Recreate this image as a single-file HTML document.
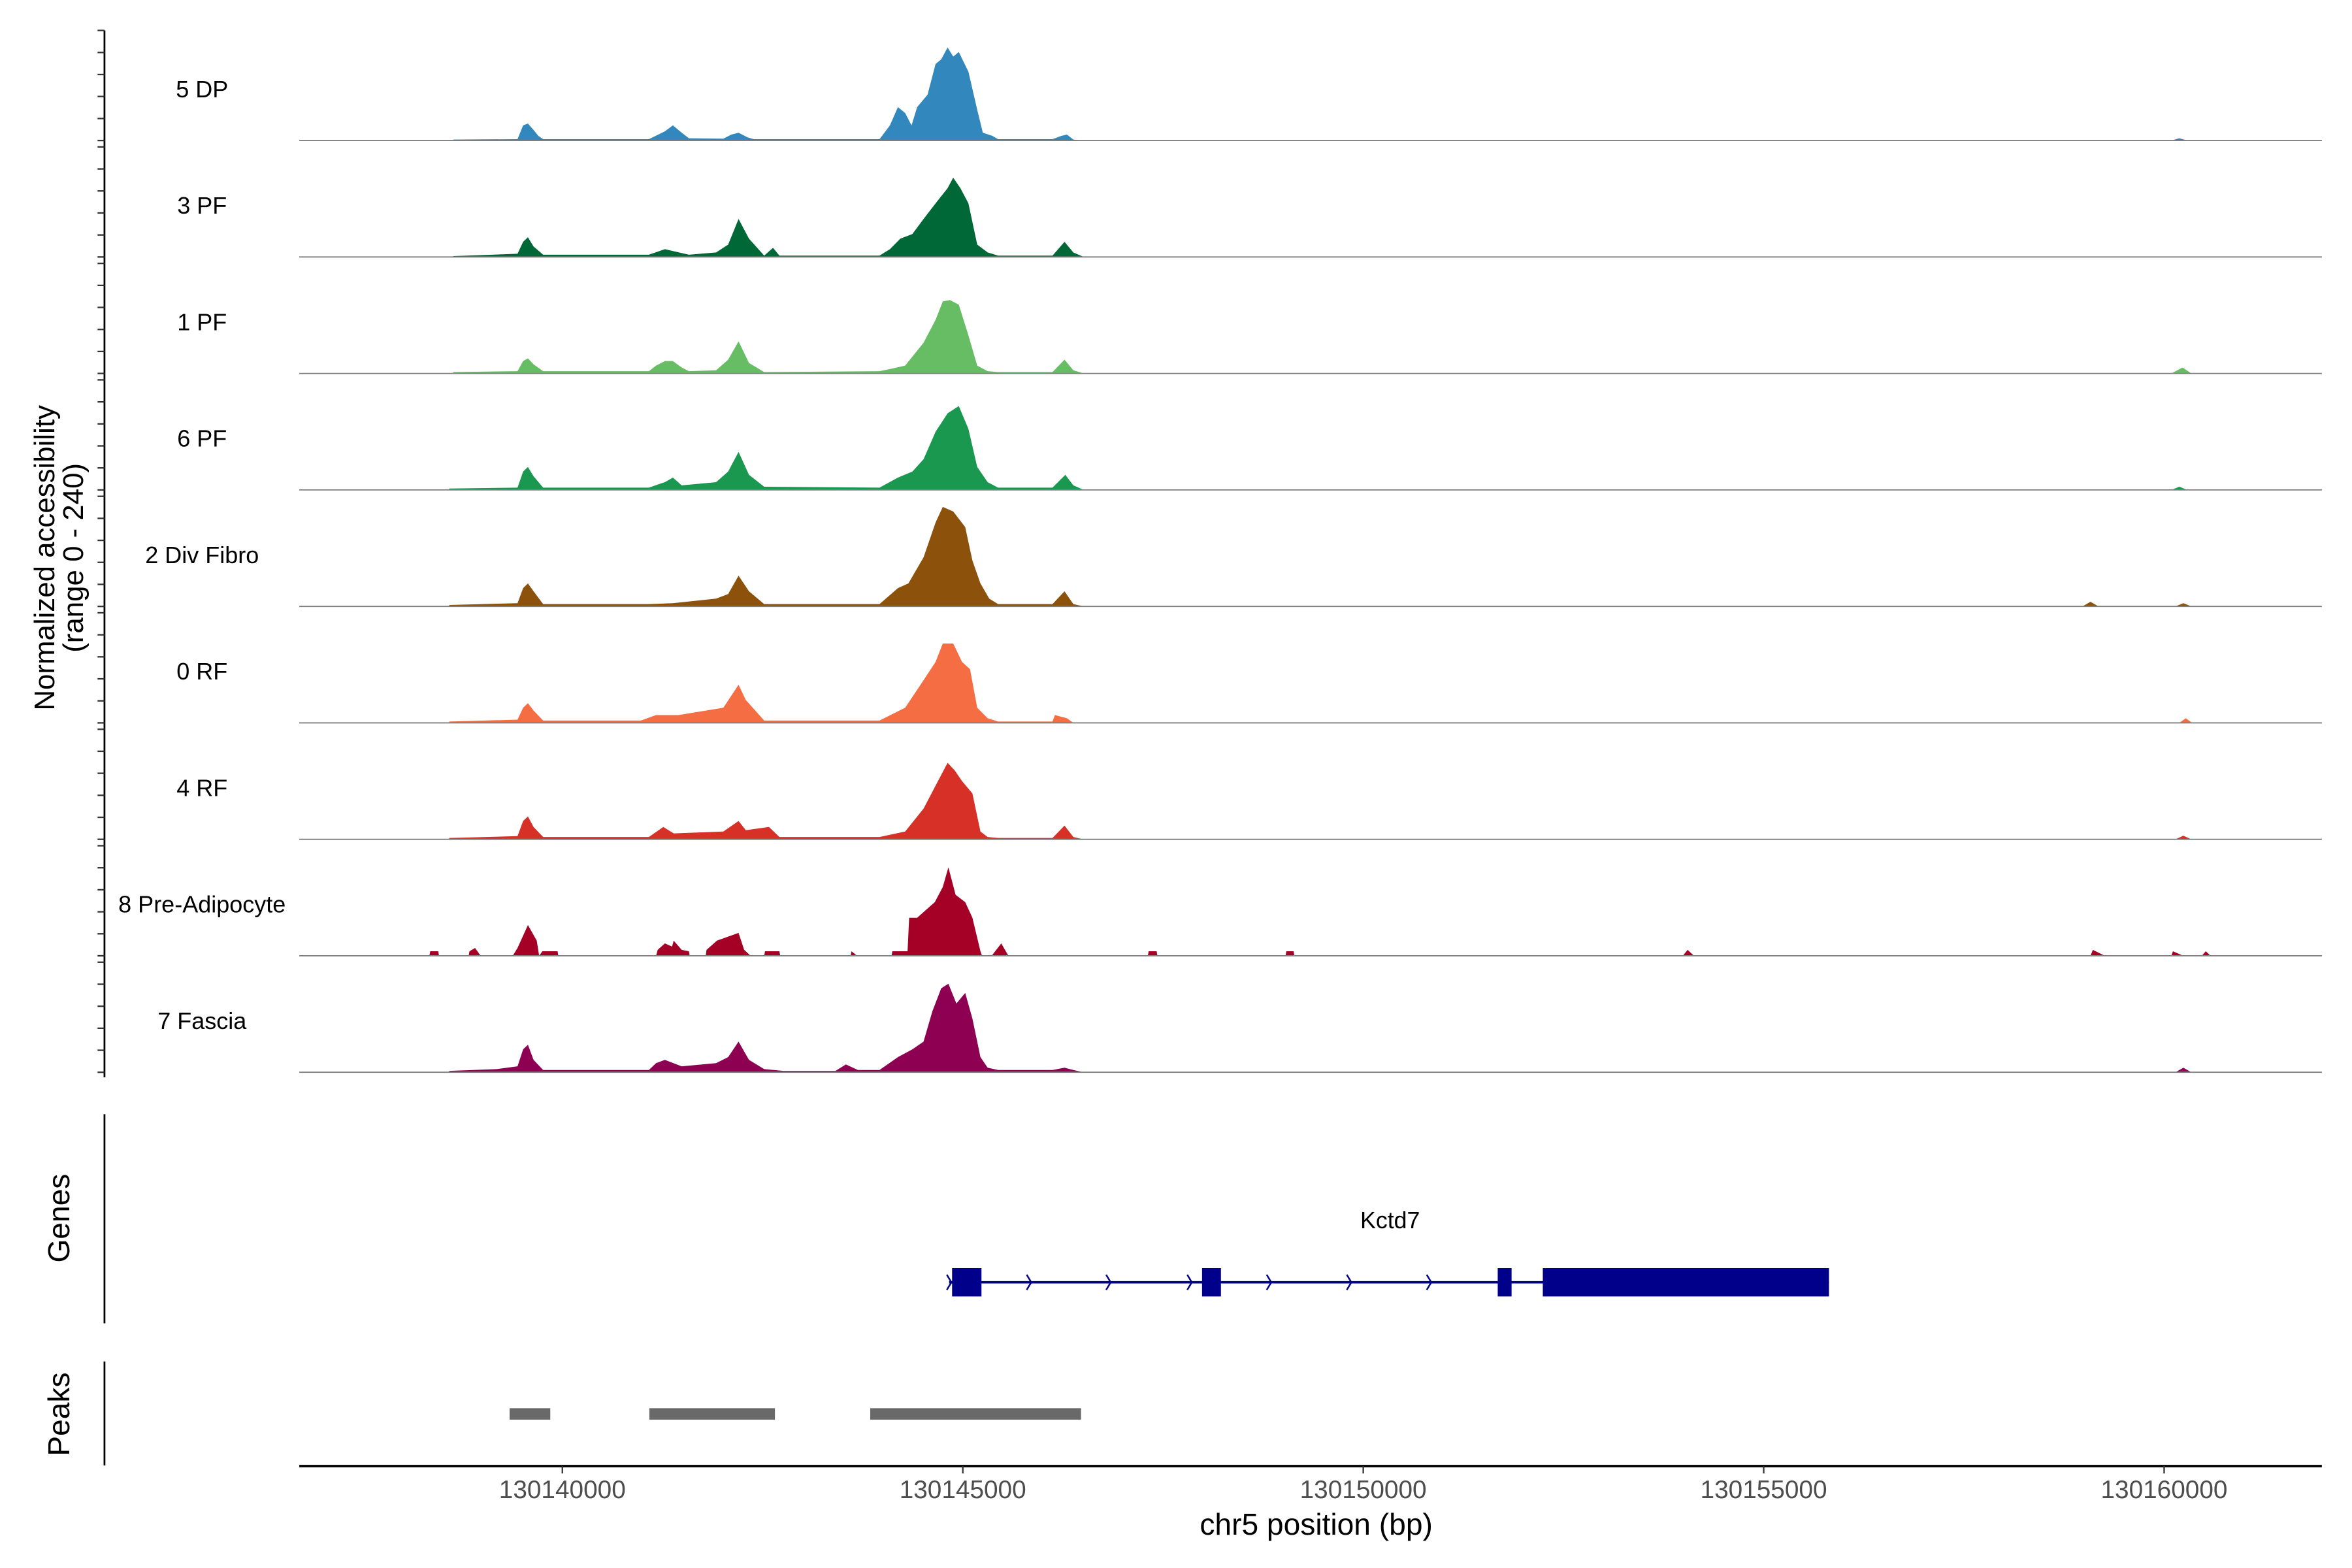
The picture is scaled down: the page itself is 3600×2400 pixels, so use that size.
<!DOCTYPE html>
<html><head><meta charset="utf-8">
<style>
html,body{margin:0;padding:0;background:#fff;}
svg{display:block;}
text{font-family:"Liberation Sans",Arial,sans-serif;}
</style></head>
<body>
<svg id="chart" width="3600" height="2400" viewBox="0 0 1560 1040" xmlns="http://www.w3.org/2000/svg">
  <g id="tracks"></g>
  <g id="yaxis"></g>
  <text transform="translate(36,370) rotate(-90)" text-anchor="middle" font-size="19" fill="#000">Normalized accessibility</text>
  <text transform="translate(55,370) rotate(-90)" text-anchor="middle" font-size="19" fill="#000">(range 0 - 240)</text>
  <g id="genes"></g>
  <line x1="69.3" y1="739" x2="69.3" y2="877.7" stroke="#000" stroke-width="1.2"/>
  <text transform="translate(46,808) rotate(-90)" text-anchor="middle" font-size="20" fill="#000">Genes</text>
  <g id="peaks"></g>
  <line x1="69.3" y1="903" x2="69.3" y2="972" stroke="#000" stroke-width="1.2"/>
  <text transform="translate(46,938) rotate(-90)" text-anchor="middle" font-size="20" fill="#000">Peaks</text>
  <g id="xaxis"></g>
  <text x="873" y="1018" text-anchor="middle" font-size="20" fill="#000">chr5 position (bp)</text>
</svg>
<script>
const trackNames = ["5 DP","3 PF","1 PF","6 PF","2 Div Fibro","0 RF","4 RF","8 Pre-Adipocyte","7 Fascia"];
const trackColors = ["#3288BD","#006837","#66BD63","#1A9850","#8C510A","#F46D43","#D73027","#A50026","#8E0152"];
const dp5 = [[130138630,0],[130138640,2],[130139440,3],[130139510,33],[130139570,37],[130139640,23],[130139700,10],[130139760,3],[130141080,3],[130141280,20],[130141380,33],[130141490,17],[130141580,5],[130142010,4],[130142110,13],[130142200,17],[130142310,7],[130142390,3],[130143960,3],[130144090,33],[130144190,73],[130144280,60],[130144360,33],[130144430,73],[130144560,100],[130144660,167],[130144730,177],[130144810,203],[130144880,183],[130144950,193],[130145070,150],[130145180,67],[130145250,17],[130145370,10],[130145440,3],[130146120,3],[130146230,10],[130146300,13],[130146380,2],[130146510,0],[130160090,0],[130160190,5],[130160290,0]];
const pf3 = [[130138630,0],[130138640,2],[130139440,7],[130139510,33],[130139570,43],[130139640,23],[130139760,5],[130141080,5],[130141280,17],[130141380,13],[130141580,5],[130141920,10],[130142070,27],[130142200,83],[130142330,40],[130142520,3],[130142630,20],[130142710,3],[130143960,3],[130144090,17],[130144220,40],[130144370,50],[130144510,83],[130144660,117],[130144810,150],[130144880,173],[130144970,150],[130145070,117],[130145180,27],[130145310,10],[130145440,3],[130146120,3],[130146270,33],[130146380,10],[130146510,0]];
const pf1 = [[130138630,0],[130138640,3],[130139440,5],[130139510,27],[130139570,33],[130139640,20],[130139760,5],[130141080,5],[130141170,17],[130141280,27],[130141380,27],[130141490,13],[130141580,5],[130141920,7],[130142070,30],[130142200,70],[130142330,23],[130142520,3],[130143960,5],[130144100,10],[130144280,17],[130144510,67],[130144660,117],[130144750,157],[130144840,160],[130144950,150],[130145070,83],[130145180,17],[130145310,5],[130145440,3],[130146120,3],[130146270,30],[130146380,7],[130146510,0],[130160090,0],[130160230,13],[130160340,0]];
const pf6 = [[130138580,0],[130138590,3],[130139440,5],[130139510,40],[130139570,50],[130139640,30],[130139760,5],[130141080,5],[130141280,17],[130141380,27],[130141490,10],[130141920,17],[130142070,40],[130142200,83],[130142330,33],[130142520,7],[130143960,5],[130144190,27],[130144370,40],[130144510,67],[130144660,127],[130144810,167],[130144950,183],[130145070,133],[130145180,50],[130145310,17],[130145440,5],[130146120,5],[130146280,33],[130146380,10],[130146510,0],[130160090,0],[130160190,7],[130160290,0]];
const divFibro = [[130138580,0],[130138590,3],[130139440,7],[130139510,40],[130139570,50],[130139640,33],[130139760,5],[130141080,5],[130141380,7],[130141920,17],[130142070,27],[130142200,67],[130142330,33],[130142520,5],[130143960,5],[130144190,40],[130144320,50],[130144510,107],[130144660,183],[130144750,217],[130144880,207],[130145030,173],[130145120,100],[130145220,50],[130145330,17],[130145440,5],[130146120,5],[130146270,33],[130146380,5],[130146510,0],[130158980,0],[130159080,10],[130159180,0],[130160140,0],[130160240,7],[130160340,0]];
const rf0 = [[130138580,0],[130138590,3],[130139440,7],[130139510,33],[130139570,43],[130139640,27],[130139760,5],[130140980,5],[130141170,17],[130141450,17],[130142010,33],[130142200,83],[130142290,50],[130142520,5],[130143960,5],[130144280,33],[130144510,93],[130144660,133],[130144750,173],[130144880,173],[130144990,133],[130145090,117],[130145180,33],[130145310,10],[130145440,3],[130146120,3],[130146150,17],[130146300,10],[130146380,0],[130160190,0],[130160270,10],[130160350,0]];
const rf4 = [[130138580,0],[130138590,3],[130139440,7],[130139510,40],[130139570,50],[130139640,27],[130139760,5],[130141080,5],[130141260,27],[130141390,13],[130142010,17],[130142200,40],[130142290,20],[130142580,27],[130142710,5],[130143960,5],[130144280,17],[130144510,67],[130144660,117],[130144810,167],[130144900,150],[130144990,127],[130145120,100],[130145220,17],[130145310,5],[130145440,3],[130146120,3],[130146270,30],[130146380,5],[130146510,0],[130160140,0],[130160240,8],[130160340,0]];
const preAdipo = [[130138340,0],[130138350,10],[130138450,10],[130138460,0],[130138830,0],[130138840,10],[130138910,17],[130138980,0],[130139380,0],[130139440,17],[130139570,67],[130139680,33],[130139710,0],[130139750,10],[130139940,10],[130139950,0],[130141170,0],[130141190,13],[130141280,27],[130141370,20],[130141390,33],[130141490,13],[130141580,10],[130141590,0],[130141790,0],[130141800,13],[130141930,33],[130142200,50],[130142270,13],[130142290,10],[130142350,0],[130142520,0],[130142530,10],[130142710,10],[130142720,0],[130143600,0],[130143610,10],[130143680,0],[130144110,0],[130144120,10],[130144310,10],[130144330,83],[130144430,83],[130144540,100],[130144650,117],[130144750,150],[130144820,193],[130144910,133],[130145030,117],[130145120,83],[130145220,10],[130145240,0],[130145360,0],[130145480,27],[130145570,0],[130147310,0],[130147320,10],[130147420,10],[130147430,0],[130149030,0],[130149040,10],[130149130,10],[130149140,0],[130153990,0],[130154050,13],[130154130,0],[130159080,0],[130159110,13],[130159260,0],[130160090,0],[130160110,10],[130160240,0],[130160470,0],[130160520,10],[130160580,0]];
const fascia = [[130138580,0],[130138590,3],[130139180,7],[130139440,13],[130139510,50],[130139570,60],[130139640,27],[130139760,5],[130141080,5],[130141170,20],[130141280,27],[130141490,13],[130141920,20],[130142070,33],[130142200,67],[130142330,27],[130142520,7],[130142760,3],[130143410,3],[130143540,17],[130143690,5],[130143960,5],[130144190,33],[130144370,50],[130144510,67],[130144620,133],[130144730,183],[130144820,193],[130144920,150],[130145030,173],[130145120,117],[130145220,33],[130145310,10],[130145440,5],[130146120,5],[130146270,10],[130146380,5],[130146510,0],[130160140,0],[130160240,10],[130160340,0]];
const trackData = [dp5, pf3, pf1, pf6, divFibro, rf0, rf4, preAdipo, fascia];
const xTicks = [130140000,130145000,130150000,130155000,130160000];
const geneName = "Kctd7";
const geneSpan = [130144829,130155815];
const exons = [[130144866,130145233],[130147987,130148223],[130151679,130151852],[130152242,130155815]];
const strandArrows = [130144829,130145826,130146818,130147831,130148823,130149823,130150821,130151813];
const peakRegions = [[130139341,130139849],[130141086,130142654],[130143844,130146476]];
const yMax = 240;

const NS = "http://www.w3.org/2000/svg";
const X0 = 130140000, PX0 = 373, PX_PER_BP = 265.6/5000;
const XL = 198.5, XR = 1540;
function xs(bp){ return PX0 + (bp - X0) * PX_PER_BP; }
const TRACK_TOP = 20.2, TRACK_STEP = 77.25, TRACK_H = 73;
function ys(v, i){ return TRACK_TOP + i*TRACK_STEP + TRACK_H - (v / yMax) * TRACK_H; }
function mk(tag, attrs, parent){ const e = document.createElementNS(NS, tag); for (const k in attrs) e.setAttribute(k, attrs[k]); parent.appendChild(e); return e; }

const gT = document.getElementById('tracks');
trackData.forEach((d, i) => {
  const base = ys(0, i);
  let pts = `${xs(d[0][0]).toFixed(2)},${base.toFixed(2)} `;
  d.forEach(p => { pts += `${xs(p[0]).toFixed(2)},${ys(p[1], i).toFixed(2)} `; });
  pts += `${xs(d[d.length-1][0]).toFixed(2)},${base.toFixed(2)}`;
  const poly = mk('polygon', {points: pts, fill: trackColors[i]}, gT);
  
  
  const bl = mk('line', {x1: XL, x2: XR, y1: base, y2: base, stroke: '#7f7f7f', 'stroke-width': 0.8}, gT);
  
  
  const lab = mk('text', {x: 134, y: base - 28.7, 'text-anchor': 'middle', 'font-size': 15.6, fill: '#000'}, gT);
  lab.textContent = trackNames[i];
  
  
});

const gY = document.getElementById('yaxis');
const axl = mk('line', {x1: 69.3, x2: 69.3, y1: TRACK_TOP, y2: ys(0, 8) + 3.3, stroke: '#000', 'stroke-width': 1.2}, gY);


for (let i = 0; i < trackData.length; i++) {
  for (let k = 0; k <= 5; k++) {
    const y = ys(k * yMax / 5, i);
    const t = mk('line', {x1: 64.7, x2: 69.3, y1: y, y2: y, stroke: '#333', 'stroke-width': 1}, gY);
    
    
  }
}

const gG = document.getElementById('genes');
const GY = 850.5;
const gl = mk('line', {x1: xs(geneSpan[0]), x2: xs(geneSpan[1]), y1: GY, y2: GY, stroke: '#00008B', 'stroke-width': 1.6}, gG);


strandArrows.forEach(bp => {
  const x = xs(bp);
  const a = mk('polyline', {points: `${x-1.5},${GY-5} ${x+1.5},${GY} ${x-1.5},${GY+5}`, fill: 'none', stroke: '#00008B', 'stroke-width': 1.1}, gG);
  
  
});
exons.forEach(e => {
  const r = mk('rect', {x: xs(e[0]), y: GY - 9.4, width: xs(e[1]) - xs(e[0]), height: 18.8, fill: '#00008B'}, gG);
  
  
});
const gn = mk('text', {x: 922, y: 814.7, 'text-anchor': 'middle', 'font-size': 15.5, fill: '#000'}, gG);
gn.textContent = geneName;



const gP = document.getElementById('peaks');
peakRegions.forEach(p => {
  const r = mk('rect', {x: xs(p[0]), y: 934, width: xs(p[1]) - xs(p[0]), height: 7.6, fill: '#696969'}, gP);
  
  
});

const gX = document.getElementById('xaxis');
const xl = mk('line', {x1: XL, x2: XR, y1: 972.4, y2: 972.4, stroke: '#000', 'stroke-width': 1.6}, gX);


xTicks.forEach(v => {
  const x = xs(v);
  const t = mk('line', {x1: x, x2: x, y1: 972.4, y2: 977.3, stroke: '#333', 'stroke-width': 1}, gX);
  
  
  const l = mk('text', {x: x, y: 993.6, 'text-anchor': 'middle', 'font-size': 16.8, fill: '#4D4D4D'}, gX);
  l.textContent = String(v);
  
  
});
</script>
</body></html>
